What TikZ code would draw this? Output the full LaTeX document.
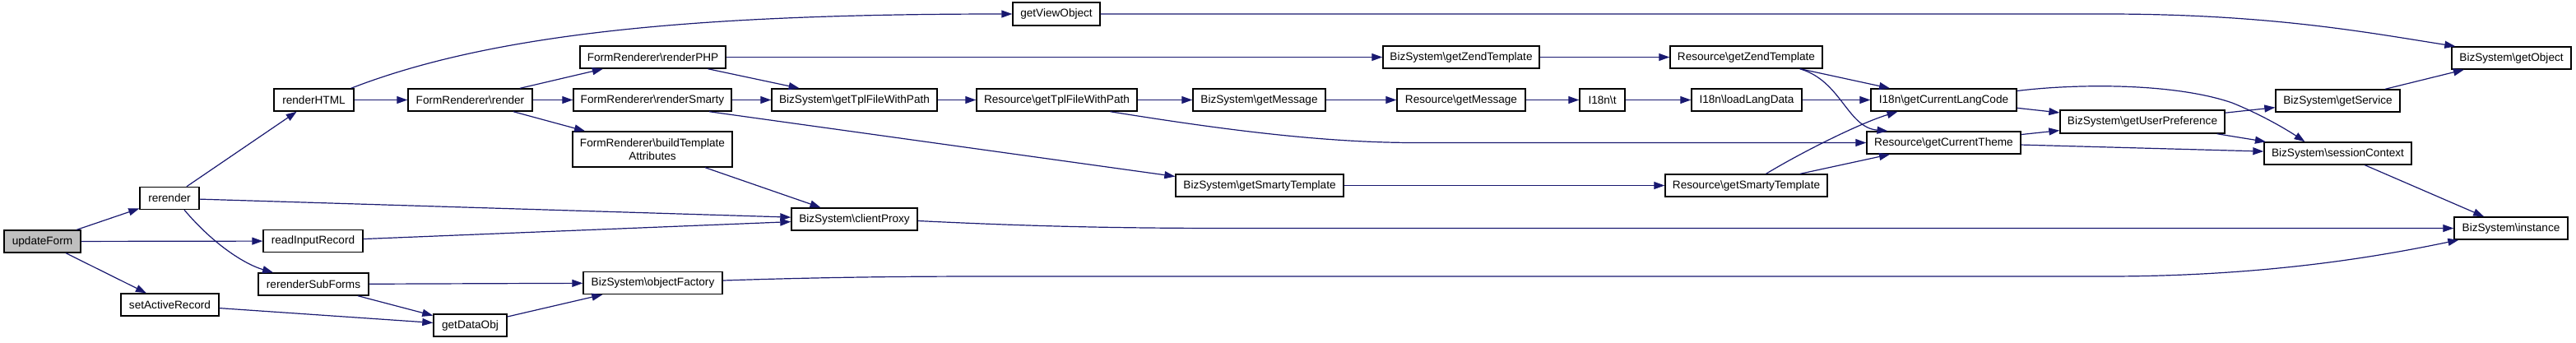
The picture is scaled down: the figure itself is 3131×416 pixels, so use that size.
\documentclass[tikz,border=0pt]{standalone}
\usepackage{fontspec}
\setmainfont{Liberation Sans}
\usetikzlibrary{arrows.meta}
\definecolor{edgeblue}{HTML}{191970}
\definecolor{rootgray}{HTML}{BFBFBF}
\begin{document}
\begin{tikzpicture}[x=1pt,y=1pt,
  fn/.style={draw=black, line width=1.4pt, fill=white, inner sep=0pt, minimum height=27pt, font=\fontsize{13.6}{15.5}\selectfont, align=center},
  call/.style={draw=edgeblue, line width=1.2pt, -{Triangle[length=13pt,width=9pt]}}
]
\useasboundingbox (0,0) rectangle (3131,-416);
% nodes
\node[fn, fill=rootgray, minimum width=93pt] (uf) at (51.5,-293.5) {updateForm};
\node[fn, minimum width=72pt] (rr) at (206,-241) {rerender};
\node[fn, minimum width=97pt] (rh) at (381.5,-121.5) {renderHTML};
\node[fn, minimum width=121pt] (rir) at (380.5,-293) {readInputRecord};
\node[fn, minimum width=134pt] (rsf) at (381,-345.5) {rerenderSubForms};
\node[fn, minimum width=119pt] (sar) at (206.5,-370.5) {setActiveRecord};
\node[fn, minimum width=151pt] (frr) at (571.5,-121.5) {FormRenderer\textbackslash render};
\node[fn, minimum width=89pt] (gdo) at (571.5,-395.5) {getDataObj};
\node[fn, minimum width=106pt, minimum height=28pt] (gvo) at (1284,-17) {getViewObject};
\node[fn, minimum width=177pt] (rphp) at (793.5,-69.5) {FormRenderer\textbackslash renderPHP};
\node[fn, minimum width=192pt] (rsm) at (793,-121.5) {FormRenderer\textbackslash renderSmarty};
\node[fn, minimum width=194pt, minimum height=43pt] (bta) at (793,-181.5) {FormRenderer\textbackslash buildTemplate\\Attributes};
\node[fn, minimum width=169pt] (bof) at (793.5,-344) {BizSystem\textbackslash objectFactory};
\node[fn, minimum width=201pt] (btp) at (1038.5,-121.5) {BizSystem\textbackslash getTplFileWithPath};
\node[fn, minimum width=153pt] (bcp) at (1038.5,-266.5) {BizSystem\textbackslash clientProxy};
\node[fn, minimum width=195pt] (rtp) at (1284.5,-121.5) {Resource\textbackslash getTplFileWithPath};
\node[fn, minimum width=161pt] (bgm) at (1530.5,-121.5) {BizSystem\textbackslash getMessage};
\node[fn, minimum width=204pt] (bst) at (1531,-225.5) {BizSystem\textbackslash getSmartyTemplate};
\node[fn, minimum width=190pt] (bzt) at (1776,-69.5) {BizSystem\textbackslash getZendTemplate};
\node[fn, minimum width=156pt] (rgm) at (1776,-121.5) {Resource\textbackslash getMessage};
\node[fn, minimum width=55pt] (it) at (1947.5,-121.5) {I18n\textbackslash t};
\node[fn, minimum width=185pt] (rzt) at (2122.5,-69.5) {Resource\textbackslash getZendTemplate};
\node[fn, minimum width=134pt] (lld) at (2123,-121.5) {I18n\textbackslash loadLangData};
\node[fn, minimum width=197pt] (rst) at (2122.5,-225.5) {Resource\textbackslash getSmartyTemplate};
\node[fn, minimum width=177pt] (glc) at (2362.5,-121.5) {I18n\textbackslash getCurrentLangCode};
\node[fn, minimum width=187pt] (gct) at (2362.5,-173.5) {Resource\textbackslash getCurrentTheme};
\node[fn, minimum width=200pt, minimum height=28pt] (gup) at (2604,-148) {BizSystem\textbackslash getUserPreference};
\node[fn, minimum width=151pt] (gsv) at (2841.5,-122.5) {BizSystem\textbackslash getService};
\node[fn, minimum width=179pt] (sc) at (2841.5,-186.5) {BizSystem\textbackslash sessionContext};
\node[fn, minimum width=145pt] (gob) at (3052.5,-70.5) {BizSystem\textbackslash getObject};
\node[fn, minimum width=138pt] (ins) at (3052,-277.5) {BizSystem\textbackslash instance};
% edges
\draw[call] (uf) -- (rr);
\draw[call] (uf) -- (rir);
\draw[call] (uf) -- (sar);
\draw[call] (rr) -- (rh);
\draw[call] (rr) -- (bcp);
\draw[call] ([xshift=18pt]rr.south) .. controls (262,-300) and (300,-322) .. ([xshift=-49pt]rsf.north);
\draw[call] ([xshift=-4pt]rh.north east) .. controls (600,-40) and (850,-17) .. (gvo.west);
\draw[call] (rh) -- (frr);
\draw[call] (frr) -- (rphp);
\draw[call] (frr) -- (rsm);
\draw[call] (frr) -- (bta);
\draw[call] (rir) -- (bcp);
\draw[call] (rsf) -- (bof);
\draw[call] (rsf) -- (gdo);
\draw[call] (sar) -- (gdo);
\draw[call] (gdo) -- (bof);
\draw[call] (gvo.east) -- (2560,-17) .. controls (2760,-17) and (2880,-40) .. ([xshift=5pt]gob.north west);
\draw[call] (rphp) -- (bzt);
\draw[call] (rphp) -- (btp);
\draw[call] (rsm) -- (btp);
\draw[call] ([xshift=69pt]rsm.south) -- ([yshift=11pt]bst.west);
\draw[call] (bta) -- (bcp);
\draw[call] ([yshift=-2pt]bcp.east) .. controls (1250,-275) and (1350,-277.5) .. (1500,-277.5) -- (ins.west);
\draw[call] ([yshift=3pt]bof.east) .. controls (1000,-337) and (1100,-336) .. (1200,-336) -- (2560,-336) .. controls (2760,-336) and (2900,-310) .. ([xshift=6pt]ins.south west);
\draw[call] (btp) -- (rtp);
\draw[call] (rtp) -- (bgm);
\draw[call] ([xshift=65pt]rtp.south) .. controls (1470,-155) and (1600,-173.5) .. (1720,-173.5) -- (gct.west);
\draw[call] (bzt) -- (rzt);
\draw[call] (bgm) -- (rgm);
\draw[call] (rgm) -- (it);
\draw[call] (it) -- (lld);
\draw[call] (bst) -- (rst);
\draw[call] (rzt) -- (glc);
\draw[call] ([xshift=65pt]rzt.south) .. controls (2238,-98) and (2245,-155) .. ([xshift=-68pt]gct.north);
\draw[call] (lld) -- (glc);
\draw[call] ([xshift=24pt]rst.north) .. controls (2190,-185) and (2260,-150) .. ([xshift=-56pt]glc.south);
\draw[call] (rst) -- (gct);
\draw[call] (glc) -- (gup);
\draw[call] ([yshift=11pt]glc.east) .. controls (2520,-102) and (2640,-100) .. (2713,-125) .. controls (2750,-140) and (2780,-158) .. ([xshift=-40pt]sc.north);
\draw[call] (gct) -- (gup);
\draw[call] (gct) -- (sc);
\draw[call] (gup) -- (gsv);
\draw[call] (gup) -- (sc);
\draw[call] (gsv) -- (gob);
\draw[call] (sc) -- (ins);
\end{tikzpicture}
\end{document}
